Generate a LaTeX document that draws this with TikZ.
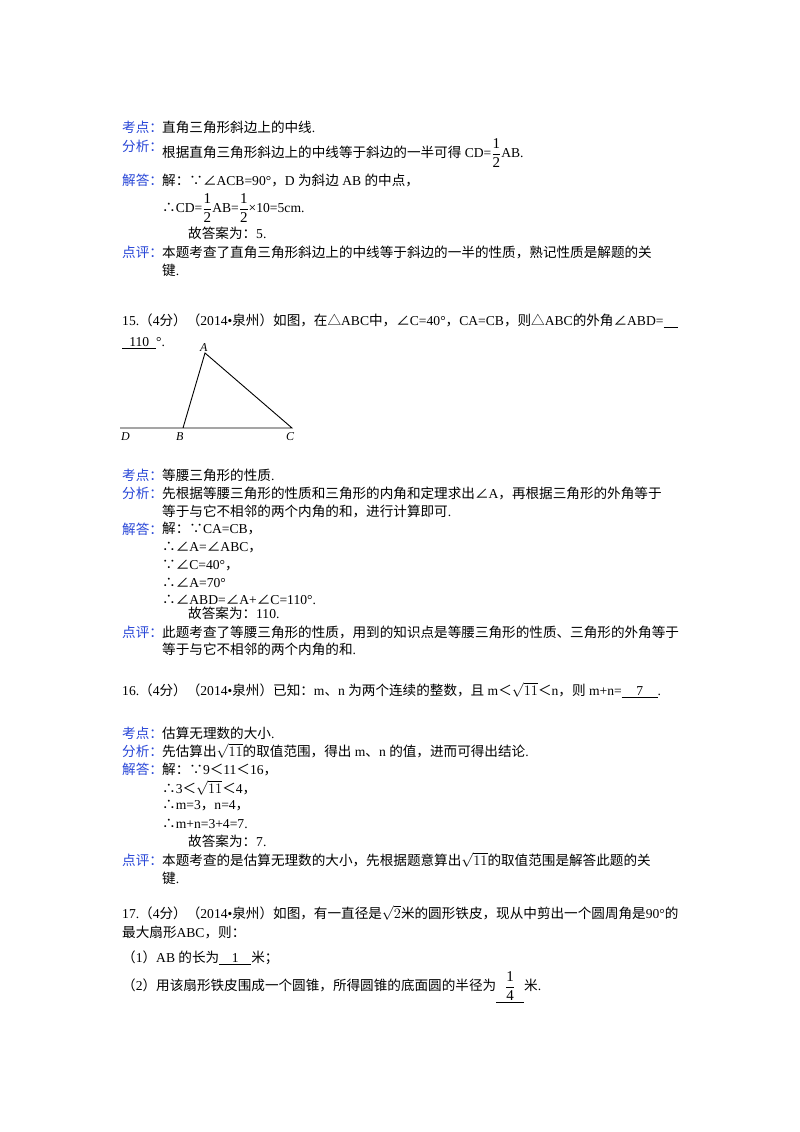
\documentclass[tikz,border=0pt]{standalone}
\usepackage{fontspec}
\setmainfont{Liberation Serif}
\newfontfamily\cjk{Noto Sans CJK SC}
\definecolor{lab}{RGB}{40,70,215}
\newcommand{\hf}{$\displaystyle\frac{\mbox{\fontsize{15}{15}\selectfont 1}}{\mbox{\fontsize{15}{15}\selectfont 2}}$}
\newcommand{\ul}[2]{\underline{\makebox[#1][c]{#2}}}
\newcommand{\ang}{{\cjk ∠}}
\newcommand{\so}{{\cjk ∴}}
\newcommand{\bc}{{\cjk ∵}}
\newcommand{\tri}{{\cjk △}}
\begin{document}
\begin{tikzpicture}[x=1pt,y=-1pt,
  t/.style={anchor=west,inner sep=0pt,font=\fontsize{13.6}{15}\selectfont},
  l/.style={t,text=lab,font=\fontsize{13.6}{15}\selectfont\cjk},
  seg/.style={line width=0.9pt}]
\useasboundingbox[fill=white] (0,0) rectangle (800,1132);
% block 1
\node[l] (k1) at (122,127) {考点：};
\node[t] (k1t) at (162,127) {{\cjk 直角三角形斜边上的中线}.};
\node[l] (f1) at (122,146) {分析：};
\node[t] (f1t) at (162,153) {{\cjk 根据直角三角形斜边上的中线等于斜边的一半可得} CD=\hf AB.};
\node[l] (j1) at (122,180) {解答：};
\node[t] (j1t) at (162,180) {{\cjk 解：}\bc\ang ACB=90°{\cjk ，}D {\cjk 为斜边} AB {\cjk 的中点，}};
\node[t] (j1b) at (162,208) {\so CD=\hf AB=\hf×10=5cm.};
\node[t] (j1c) at (188,233) {{\cjk 故答案为：}5.};
\node[l] (d1) at (122,252) {点评：};
\node[t] (d1t) at (162,252) {\cjk 本题考查了直角三角形斜边上的中线等于斜边的一半的性质，熟记性质是解题的关};
\node[t] (d1b) at (162,270) {{\cjk 键}.};
% 15
\node[t] (q15) at (122,321) {15.{\cjk （}4{\cjk 分）（}2014•{\cjk 泉州）如图，在}\tri ABC{\cjk 中，}\ang C=40°{\cjk ，}CA=CB{\cjk ，则}\tri ABC{\cjk 的外角}\ang ABD=\ul{14pt}{}};
\node[t] (q15b) at (122,343) {\ul{34pt}{110}°.};
% triangle
\coordinate (A) at (205,353);
\coordinate (B) at (183,428);
\coordinate (C) at (292,428);
\coordinate (D) at (120,428);
\draw[seg] (D) -- (C) -- (A) -- (B);
\node[t,font=\fontsize{12}{14}\selectfont\itshape] (lA) at (200,348) {A};
\node[t,font=\fontsize{12}{14}\selectfont\itshape] (lB) at (176,437) {B};
\node[t,font=\fontsize{12}{14}\selectfont\itshape] (lC) at (286,437) {C};
\node[t,font=\fontsize{12}{14}\selectfont\itshape] (lD) at (121,437) {D};
% block 2
\node[l] (k2) at (122,475) {考点：};
\node[t] (k2t) at (162,475) {{\cjk 等腰三角形的性质}.};
\node[l] (f2) at (122,493) {分析：};
\node[t] (f2t) at (162,493) {{\cjk 先根据等腰三角形的性质和三角形的内角和定理求出}\ang A{\cjk ，再根据三角形的外角等于}};
\node[t] (f2b) at (162,511) {{\cjk 等于与它不相邻的两个内角的和，进行计算即可}.};
\node[l] (j2) at (122,529) {解答：};
\node[t] (j2a) at (162,529) {{\cjk 解：}\bc CA=CB{\cjk ，}};
\node[t] (j2b) at (162,547) {\so\ang A=\ang ABC{\cjk ，}};
\node[t] (j2c) at (162,565) {\bc\ang C=40°{\cjk ，}};
\node[t] (j2d) at (162,583) {\so\ang A=70°};
\node[t] (j2e) at (162,600) {\so\ang ABD=\ang A+\ang C=110°.};
\node[t] (j2f) at (188,613) {{\cjk 故答案为：}110.};
\node[l] (d2) at (122,632) {点评：};
\node[t] (d2t) at (162,632) {\cjk 此题考查了等腰三角形的性质，用到的知识点是等腰三角形的性质、三角形的外角等于};
\node[t] (d2b) at (162,649) {{\cjk 等于与它不相邻的两个内角的和}.};
% 16
\node[t] (q16) at (122,690) {16.{\cjk （}4{\cjk 分）（}2014•{\cjk 泉州）已知：}m{\cjk 、}n {\cjk 为两个连续的整数，且} m{\cjk ＜}$\sqrt{11}${\cjk ＜}n{\cjk ，则} m+n=\ul{36pt}{7}.};
\node[l] (k3) at (122,733) {考点：};
\node[t] (k3t) at (162,733) {{\cjk 估算无理数的大小}.};
\node[l] (f3) at (122,751) {分析：};
\node[t] (f3t) at (162,751) {{\cjk 先估算出}$\sqrt{11}${\cjk 的取值范围，得出} m{\cjk 、}n {\cjk 的值，进而可得出结论}.};
\node[l] (j3) at (122,769) {解答：};
\node[t] (j3a) at (162,769) {{\cjk 解：}\bc 9{\cjk ＜}11{\cjk ＜}16{\cjk ，}};
\node[t] (j3b) at (162,788) {\so 3{\cjk ＜}$\sqrt{11}${\cjk ＜}4{\cjk ，}};
\node[t] (j3c) at (162,806) {\so m=3{\cjk ，}n=4{\cjk ，}};
\node[t] (j3d) at (162,824) {\so m+n=3+4=7.};
\node[t] (j3e) at (188,841) {{\cjk 故答案为：}7.};
\node[l] (d3) at (122,860) {点评：};
\node[t] (d3t) at (162,860) {{\cjk 本题考查的是估算无理数的大小，先根据题意算出}$\sqrt{11}${\cjk 的取值范围是解答此题的关}};
\node[t] (d3b) at (162,878) {{\cjk 键}.};
% 17
\node[t] (q17) at (122,913) {17.{\cjk （}4{\cjk 分）（}2014•{\cjk 泉州）如图，有一直径是}$\sqrt{2}${\cjk 米的圆形铁皮，现从中剪出一个圆周角是}90°{\cjk 的}};
\node[t] (q17b) at (122,932) {{\cjk 最大扇形}ABC{\cjk ，则：}};
\node[t] (q17c) at (122,958) {{\cjk （}1{\cjk ）}AB {\cjk 的长为}\ul{32pt}{1}{\cjk 米；}};
\node[t] (q17d) at (122,987) {{\cjk （}2{\cjk ）用该扇形铁皮围成一个圆锥，所得圆锥的底面圆的半径为}\ul{28pt}{$\displaystyle\frac{\mbox{\fontsize{15}{15}\selectfont 1}}{\mbox{\fontsize{15}{15}\selectfont 4}}$}{\cjk 米}.};
\end{tikzpicture}
\end{document}
